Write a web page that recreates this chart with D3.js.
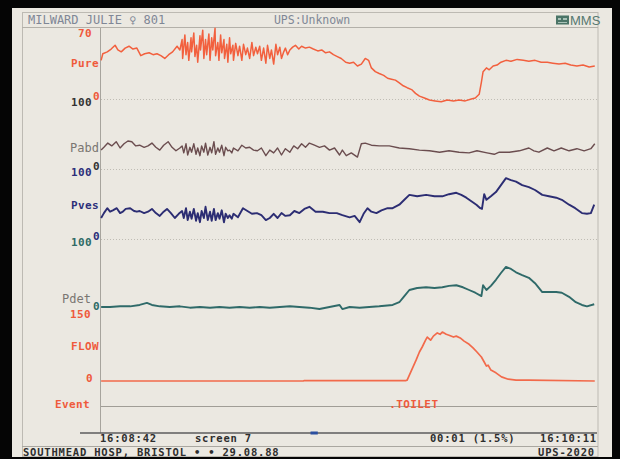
<!DOCTYPE html>
<html><head><meta charset="utf-8">
<script src="https://cdn.jsdelivr.net/npm/d3@7/dist/d3.min.js"></script>
<style>
html,body{margin:0;padding:0;background:#000;}
svg{display:block;}
.mono{font-family:"DejaVu Sans Mono",monospace;}
</style></head><body>
<svg id="c" width="620" height="459"></svg>
<script>
// ---------------- DATA ----------------
const headerLeft = "MILWARD JULIE \u2640 801";
const headerMid = "UPS:Unknown";
const headerRight = "MMS";
const timeTicks = ["16:08:42", "16:10:11"];     // start / end of screen
const timeDomain = [0, 89];                      // seconds shown
const screenLabel = "screen 7";
const cursorLabel = "00:01 (1.5%)";
const footerLeft = "SOUTHMEAD HOSP, BRISTOL \u2022  \u2022 29.08.88";
const footerRight = "UPS-2020";

const channelNames = ["Pure", "Pabd", "Pves", "Pdet", "FLOW"];
const channelMax   = [70, 100, 100, 100, 150];
const channelMin   = [0, 0, 0, 0, 0];

const eventTimes  = [51.8];
const eventLabels = [".TOILET"];
const markerSpan  = [37.7, 39.0];

// [time s, value]
const pura = [[0.2,41],[0.5,48],[1.3,50],[2.0,53],[2.7,57],[3.2,52],[3.8,50],[4.5,54],[5.2,56],[5.9,53],[6.6,54],[7.3,46],[8.0,48],[8.8,49],[9.5,47],[10.2,48],[10.9,46],[11.6,43],[12.3,47],[13.0,50],[13.8,56],[14.3,52],
[14.7,63],[14.8,43],[15.2,68],[15.4,47],[15.7,60],[15.9,41],[16.3,65],[16.4,50],[16.8,70],[17.0,45],[17.3,57],[17.5,39],[17.9,67],[18.0,52],[18.4,73],[18.6,43],[18.9,63],[19.1,47],[19.5,69],[19.7,41],[20.0,65],[20.2,52],[20.6,75],[20.7,46],[21.1,60],[21.3,41],[21.6,68],[21.8,49],[22.2,63],[22.3,43],[22.7,58],[22.9,39],[23.2,65],[23.4,48],[23.8,57],[23.9,41],[24.3,59],[24.7,46],[25.0,56],[25.4,41],[25.7,58],[26.1,47],[26.4,54],[26.8,43],[27.2,60],[27.5,46],[27.9,55],[28.2,48],[28.6,56],[28.9,41],[29.3,54],[29.7,38],[30.0,57],[30.4,43],[30.7,52],[31.1,37],[31.5,58],[31.8,47],[32.2,55],[32.5,43],[32.9,50],[33.2,54],[33.6,47],[34.0,52],
[34.5,55],[35.0,57],[35.6,53],[36.1,56],[36.8,54],[37.5,55],[38.2,53],[39.0,51],[39.7,52],[40.4,49],[41.1,50],[41.8,47],[42.5,45],[43.2,43],[44.0,39],[44.7,38],[45.4,39],[46.1,35],[46.8,37],[47.5,43],[48.1,41],[48.6,33],[49.3,29],[50.0,27],[50.8,25],[51.5,22],[52.2,21],[52.9,20],[53.6,17],[54.3,14],[55.0,12],[55.8,10],[56.5,6],[57.2,3],[58.1,1],[59.0,-1],[60.0,-2],[61.1,-3],[62.2,-1],[63.3,-2],[64.3,-1],[65.4,-2],[66.5,0],[67.2,1],[67.9,5],[68.3,18],[68.6,29],[69.2,33],[69.7,31],[70.4,35],[71.1,36],[71.8,39],[72.7,41],[73.6,40],[74.7,42],[75.8,41],[76.8,40],[77.9,41],[79.0,39],[80.1,39],[81.1,38],[82.2,37],[83.3,38],[84.3,36],[85.4,35],[86.5,36],[87.6,34],[88.6,35]];

const pabd = [[0.2,27],[0.7,31],[1.4,37],[2.1,33],[2.9,39],[3.6,30],[4.3,36],[5.0,40],[5.7,39],[6.4,33],[7.1,34],[7.9,31],[8.6,33],[9.3,37],[10.0,31],[10.7,27],[11.4,34],[12.2,39],[12.9,31],[13.6,26],[14.3,30],[14.7,33],[15.0,23],[15.4,36],[15.7,20],[16.1,31],[16.4,24],[16.8,36],[17.2,21],[17.5,30],[17.9,19],[18.2,33],[18.6,24],[18.9,37],[19.3,20],[19.7,31],[20.0,23],[20.4,39],[20.7,21],[21.1,30],[21.4,24],[21.8,34],[22.2,19],[22.5,31],[22.9,26],[23.2,27],[23.6,23],[23.9,30],[24.7,26],[25.4,34],[26.1,30],[26.8,31],[27.5,27],[28.2,26],[28.9,30],[29.7,19],[30.4,27],[31.1,23],[31.8,30],[32.5,20],[33.2,29],[34.0,24],[34.7,33],[35.4,29],[36.1,36],[36.8,31],[37.5,37],[38.4,34],[39.3,31],[40.2,33],[41.1,27],[42.0,30],[42.9,20],[43.4,27],[44.1,19],[45.0,23],[46.1,17],[46.8,36],[47.5,37],[48.6,34],[50.0,33],[51.8,33],[53.6,30],[55.4,29],[57.2,27],[59.0,26],[60.8,24],[62.5,26],[64.3,24],[66.1,23],[67.5,26],[69.3,23],[70.6,21],[71.5,24],[73.3,24],[75.1,26],[76.8,30],[77.7,26],[78.6,24],[80.1,30],[81.3,26],[82.6,30],[84.0,26],[85.4,29],[86.7,26],[87.9,29],[88.6,36]];

const pves = [[0.2,30],[0.7,37],[1.3,44],[1.8,39],[2.3,41],[3.0,44],[3.6,37],[4.1,39],[4.6,43],[5.4,44],[6.1,40],[6.6,39],[7.1,40],[7.9,37],[8.6,39],[9.3,43],[10.0,37],[10.7,33],[11.4,39],[12.0,43],[12.7,37],[13.4,30],[14.1,36],[14.7,40],[15.0,30],[15.4,44],[15.7,27],[16.1,39],[16.4,29],[16.8,43],[17.2,26],[17.5,37],[17.9,24],[18.2,40],[18.6,30],[18.9,46],[19.3,27],[19.7,39],[20.0,26],[20.4,43],[20.7,27],[21.1,37],[21.4,29],[21.8,41],[22.2,24],[22.5,36],[22.9,30],[23.2,34],[23.6,29],[23.9,36],[24.7,31],[25.6,44],[26.4,40],[27.2,36],[28.1,37],[28.9,34],[29.7,27],[30.4,30],[31.1,36],[31.8,30],[32.5,37],[33.2,33],[34.0,34],[34.8,40],[35.7,37],[36.6,43],[37.5,46],[38.6,39],[39.9,39],[41.1,37],[42.4,37],[43.4,34],[44.7,31],[45.6,33],[46.5,24],[47.2,36],[47.9,44],[48.6,39],[49.5,37],[50.4,41],[51.5,44],[52.4,44],[53.6,49],[54.5,56],[55.4,63],[56.8,61],[58.4,63],[59.9,61],[61.3,61],[62.5,64],[63.8,66],[64.7,63],[65.6,59],[66.5,54],[67.4,49],[68.1,44],[68.4,43],[68.8,64],[69.2,56],[70.0,61],[70.9,67],[71.8,77],[72.7,87],[73.6,84],[74.5,82],[75.6,77],[76.8,74],[77.9,70],[79.2,63],[80.4,61],[81.7,59],[82.7,56],[84.0,49],[85.1,44],[86.3,37],[87.2,36],[87.9,37],[88.5,49]];

const pdet = [[0.2,0],[1.8,0],[3.6,1],[5.4,1],[7.1,3],[8.4,6],[9.3,3],[10.7,1],[12.5,0],[14.3,1],[16.1,-1],[17.9,0],[19.7,-1],[21.4,0],[23.2,-1],[25.0,0],[26.8,-1],[28.6,0],[30.4,-1],[32.2,0],[34.0,1],[35.7,0],[37.5,-1],[39.3,-3],[41.1,0],[42.9,3],[43.4,-3],[44.7,0],[46.5,-1],[48.2,0],[50.0,1],[52.4,3],[53.6,7],[54.5,16],[55.4,25],[56.8,28],[58.4,29],[59.9,28],[61.3,29],[62.5,31],[63.8,32],[65.0,29],[66.1,25],[67.2,21],[68.3,16],[68.6,32],[69.2,25],[70.0,31],[70.9,40],[71.8,50],[72.7,59],[73.6,56],[74.5,51],[75.6,47],[76.8,43],[77.9,35],[79.2,22],[80.4,22],[81.7,22],[82.7,21],[84.0,15],[85.2,7],[86.3,3],[87.2,1],[88.5,4]];

const flow = [[0.2,0],[36.4,0],[36.6,1],[54.8,1],[55.0,2],[55.8,24],[56.6,46],[57.2,64],[57.7,75],[58.3,90],[58.6,97],[59.2,90],[59.7,99],[60.4,106],[60.9,103],[61.3,108],[62.0,103],[62.5,101],[63.3,97],[63.8,99],[64.5,95],[65.2,88],[66.1,81],[66.8,73],[67.5,64],[68.3,53],[68.8,42],[69.2,33],[69.5,35],[70.0,24],[70.9,18],[71.9,9],[73.1,4],[74.5,2],[76.8,2],[88.6,0]];

const series = [pura, pabd, pves, pdet, flow];

// ---------------- DRAW ----------------
const svg = d3.select("#c");
const bg = "#ebe8e1";

// photo frame & screen
svg.append("rect").attr("x",0).attr("y",0).attr("width",620).attr("height",459).attr("fill","#050505");
svg.append("rect").attr("x",12).attr("y",8).attr("width",600).attr("height",449).attr("fill",bg);
svg.append("rect").attr("x",22.5).attr("y",12.5).attr("width",575.5).attr("height",444)
  .attr("fill","none").attr("stroke","#bdbab3");
svg.append("line").attr("x1",22).attr("x2",598).attr("y1",27.5).attr("y2",27.5).attr("stroke","#b3b0a9");

// scales
const x = d3.scaleLinear().domain(timeDomain).range([100, 597]);
const bandTop    = [33, 99, 169, 239, 313];
const bandBottom = [99, 169, 239, 307, 381];
const ys = channelNames.map((n,i)=> d3.scaleLinear().domain([channelMin[i], channelMax[i]]).range([bandBottom[i], bandTop[i]]));

// header
svg.append("text").attr("class","mono").attr("x",28).attr("y",24).attr("font-size",12)
  .attr("fill","#7f8796").text(headerLeft);
svg.append("text").attr("class","mono").attr("x",312).attr("y",24).attr("font-size",11.5)
  .attr("text-anchor","middle").attr("fill","#7f8796").text(headerMid);
svg.append("rect").attr("x",556).attr("y",15.5).attr("width",13).attr("height",9).attr("fill","#4b7467");
svg.append("path").attr("d","M558,18h3v2h-3zM563,18h4v2h-4zM558,22h9v1h-9z").attr("fill","#a9c2b8");
svg.append("text").attr("x",570).attr("y",25).attr("font-family","Liberation Sans, Arial, sans-serif")
  .attr("font-size",13).attr("fill","#567870").text(headerRight);

// left axis line
svg.append("line").attr("x1",100.5).attr("x2",100.5).attr("y1",28).attr("y2",433).attr("stroke","#a7a49d").attr("stroke-width",1);

// dotted grid lines at channel boundaries
[0,1,2].forEach(i=>{
  const yy = Math.round(ys[i](channelMin[i]))+0.5;
  svg.append("line").attr("x1",101).attr("x2",597).attr("y1",yy).attr("y2",yy)
    .attr("stroke","#bfbcb4").attr("stroke-dasharray","1,2");
});

// event line
const evY = 406.5;
svg.append("line").attr("x1",101).attr("x2",597).attr("y1",evY).attr("y2",evY).attr("stroke","#a09d96");

// bottom time line
svg.append("line").attr("x1",80).attr("x2",597).attr("y1",433).attr("y2",433).attr("stroke","#5d5d5d").attr("stroke-width",1.6);
svg.append("rect").attr("x",x(markerSpan[0])).attr("y",431.5).attr("width",x(markerSpan[1])-x(markerSpan[0])).attr("height",3).attr("fill","#2b4fa0");
svg.append("line").attr("x1",22).attr("x2",598).attr("y1",446.5).attr("y2",446.5).attr("stroke","#aaa7a0");

// traces
const colors = ["#f2603e", "#6b4d4f", "#2c2d73", "#2f6a69", "#f26a4b"];
const widths = [1.5, 1.4, 1.9, 1.9, 1.7];
series.forEach((data,i)=>{
  const line = d3.line().x(d=>x(d[0])).y(d=>ys[i](d[1]));
  svg.append("path").datum(data).attr("d",line).attr("fill","none")
    .attr("stroke",colors[i]).attr("stroke-width",widths[i]).attr("stroke-linejoin","round");
});

// channel labels
const lab = (t, xx, yy, col, opts={}) => svg.append("text").attr("class","mono")
  .attr("x",xx).attr("y",yy).attr("font-size",opts.size||11).attr("font-weight",opts.w||"bold")
  .attr("fill",col).attr("text-anchor",opts.anchor||"end")
  .attr("letter-spacing",opts.ls!=null?opts.ls:0.4)
  .attr("font-family",opts.ff||null).text(t);

const red = "#ef5a3c", navy="#2c2f7a", teal="#2f6b66", dark="#333", grey="#7a7672";
// Pure
lab(String(channelMax[0]), 92, ys[0](channelMax[0])+4, red);
lab(channelNames[0], 99, 67, red);
lab(String(channelMin[0]), 100, ys[0](channelMin[0])+1, red);
// Pabd
lab(String(channelMax[1]), 92, ys[1](channelMax[1])+7, dark);
lab(channelNames[1], 99, 152, grey, {w:"normal", ff:"Liberation Mono, Courier New, monospace", size:12, ls:0});
lab(String(channelMin[1]), 100, ys[1](channelMin[1])+1, dark);
// Pves
lab(String(channelMax[2]), 92, ys[2](channelMax[2])+7, navy);
lab(channelNames[2], 99, 209, navy);
lab(String(channelMin[2]), 100, ys[2](channelMin[2])+1, navy);
// Pdet
lab(String(channelMax[3]), 92, ys[3](channelMax[3])+7, teal);
lab(channelNames[3], 91, 303, grey, {w:"normal", ff:"Liberation Mono, Courier New, monospace", size:12, ls:0});
lab(String(channelMin[3]), 100, ys[3](channelMin[3])+3, teal);
// FLOW
lab(String(channelMax[4]), 91, ys[4](channelMax[4])+5, red);
lab(channelNames[4], 99, 350, red);
lab(String(channelMin[4]), 93, ys[4](channelMin[4])+1, red);
// Event
lab("Event", 90, 408, red);
eventTimes.forEach((t,i)=> lab(eventLabels[i], x(t), 408, red, {anchor:"start"}));

// bottom texts
const bt = (t, xx, yy, anchor) => svg.append("text").attr("class","mono").attr("x",xx).attr("y",yy)
  .attr("font-size",10.5).attr("letter-spacing",0.8).attr("font-weight","bold").attr("fill","#2e2e2e")
  .attr("text-anchor",anchor||"start").text(t);
bt(timeTicks[0], x(timeDomain[0]), 442);
bt(screenLabel, 195, 442);
bt(cursorLabel, 430, 442);
bt(timeTicks[1], x(timeDomain[1]), 442, "end");
bt(footerLeft, 23, 455.5);
bt(footerRight, 595, 455.5, "end");
</script>
</body></html>
